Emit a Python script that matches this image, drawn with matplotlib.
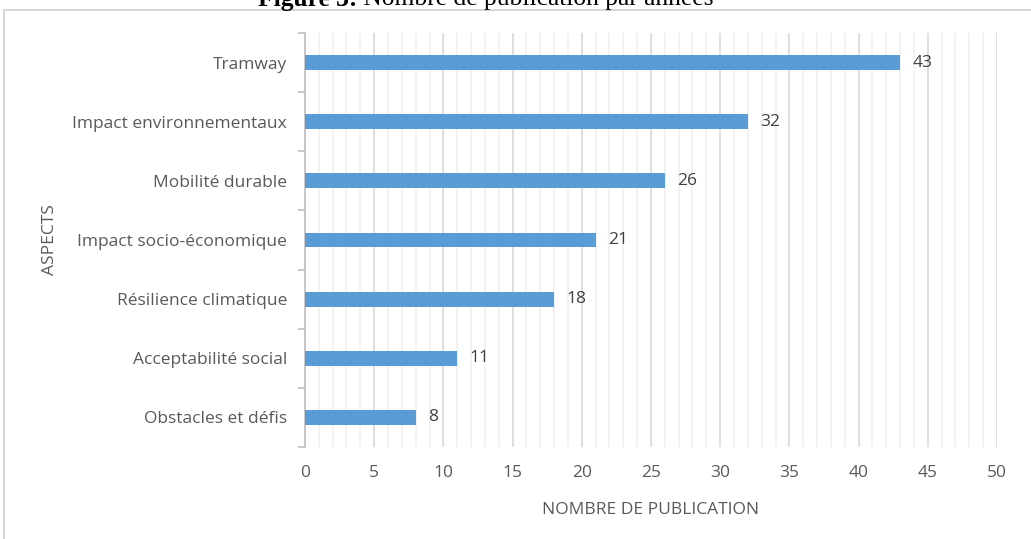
import matplotlib.pyplot as plt
from matplotlib.patches import Rectangle
from matplotlib.ticker import MultipleLocator

aspects = ["Obstacles et défis", "Acceptabilité social", "Résilience climatique",
           "Impact socio-économique", "Mobilité durable",
           "Impact environnementaux", "Tramway"]
counts = [8, 11, 18, 21, 26, 32, 43]

plt.rcParams['font.family'] = ['Open Sans', 'DejaVu Sans']

fig = plt.figure(figsize=(10.31, 5.39), dpi=100)
ax = fig.add_axes([0.2958, 0.1707, 0.6712, 0.7681])

# chart frame and cut-off caption
fig.patches.append(Rectangle((0.004, -0.01), 1.2, 0.992, transform=fig.transFigure,
                             fill=False, edgecolor="#d0d0d0", linewidth=1.2))
t1 = fig.text(0.250, 1.001, "Figure 3:", ha="left", va="center", fontsize=18.4,
              family="Liberation Serif", fontweight="bold")
fig.add_artist(plt.Annotation(" Nombre de publication par années", xy=(1.0, 0.5),
                              xycoords=t1, ha="left", va="center", fontsize=18.4,
                              family="Liberation Serif"))

y = range(len(aspects))
ax.barh(y, counts, height=0.25, color="#5b9bd5", zorder=3)
for i, v in zip(y, counts):
    ax.text(v + 0.9, i, str(v), va="center", ha="left", fontsize=12.5, color="#404040")

ax.set_xlim(0, 50)
ax.set_ylim(-0.5, len(aspects) - 0.5)
ax.xaxis.set_major_locator(MultipleLocator(5))
ax.xaxis.set_minor_locator(MultipleLocator(1))
ax.grid(axis="x", which="major", color="#d9d9d9", linewidth=1.2, zorder=0)
ax.grid(axis="x", which="minor", color="#f0f0f0", linewidth=1.2, zorder=0)
ax.tick_params(axis="x", which="both", length=0, pad=13, labelsize=12.5, labelcolor="#595959")

ax.set_yticks(list(y))
ax.set_yticklabels(aspects)
ax.set_yticks([i - 0.5 for i in range(len(aspects) + 1)], minor=True)
ax.tick_params(axis="y", which="major", length=0, pad=13, labelsize=12.5, labelcolor="#595959")
ax.tick_params(axis="y", which="minor", length=5, color="#bfbfbf", width=1.2)

for s in ["top", "right", "bottom"]:
    ax.spines[s].set_visible(False)
ax.spines["left"].set_color("#bfbfbf")
ax.spines["left"].set_linewidth(1.2)

ax.set_xlabel("NOMBRE DE PUBLICATION", fontsize=12.5, color="#595959", labelpad=15)
ax.set_ylabel("ASPECTS", fontsize=12.5, color="#595959")
ax.yaxis.set_label_coords(-0.357, 0.5)

fig.savefig("out.png", dpi=100)
